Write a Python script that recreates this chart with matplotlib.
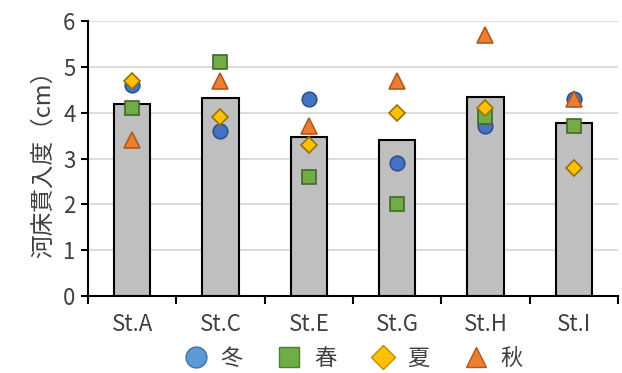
import numpy as np
import matplotlib
matplotlib.use("Agg")
import matplotlib.pyplot as plt
from matplotlib.lines import Line2D

plt.rcParams['font.family'] = ['Noto Sans CJK JP', 'DejaVu Sans']

stations = ['St.A', 'St.C', 'St.E', 'St.G', 'St.H', 'St.I']
bar_mean = [4.2, 4.33, 3.48, 3.4, 4.35, 3.78]
winter = [4.6, 3.6, 4.3, 2.9, 3.7, 4.3]
spring = [4.1, 5.1, 2.6, 2.0, 3.9, 3.7]
summer = [4.7, 3.9, 3.3, 4.0, 4.1, 2.8]
autumn = [3.4, 4.7, 3.7, 4.7, 5.7, 4.3]
season_labels = ['冬', '春', '夏', '秋']

fig = plt.figure(figsize=(6.22, 3.73), dpi=100)
ax = fig.add_axes([0.1415, 0.2064, 0.852, 0.7373])

x = np.arange(len(stations))
ax.bar(x, bar_mean, width=0.41, color='#BFBFBF', edgecolor='black', linewidth=1.5, zorder=2)

# marker styles: (values, marker, face, edge, size)
series = [
    (winter, 'o', '#4472C4', '#2F528F', 10.5),
    (spring, 's', '#70AD47', '#43682B', 10.5),
    (summer, 'D', '#FFC000', '#997300', 8),
    (autumn, '^', '#ED7D31', '#AE5A21', 11),
]
for i, (vals, mk, fc, ec, ms) in enumerate(series):
    ax.plot(x, vals, linestyle='none', marker=mk, markersize=ms,
            markerfacecolor=fc, markeredgecolor=ec, markeredgewidth=1.2, zorder=3 + i)

ax.set_xlim(-0.5, len(stations) - 0.5)
ax.set_ylim(0, 6)
ax.set_yticks(range(7))
ax.yaxis.grid(True, color='#D9D9D9', linewidth=1.3, zorder=0)
ax.set_axisbelow(True)

ax.set_xticks(x)
ax.set_xticklabels(stations, fontsize=16, color='#404040')
ax.tick_params(axis='x', length=0, pad=12)
ax.set_xticks(np.arange(-0.5, len(stations), 1), minor=True)
ax.tick_params(axis='x', which='minor', length=6, width=1.5, direction='out', color='black')
ax.tick_params(axis='y', labelsize=16, labelcolor='#404040', length=5, width=1.5, direction='out', pad=4)

for s in ['top', 'right']:
    ax.spines[s].set_visible(False)
ax.spines['left'].set_linewidth(1.5)
ax.spines['bottom'].set_linewidth(1.5)

ax.set_ylabel('河床貫入度（cm）', fontsize=17, color='#404040', labelpad=6)

legend_cols = [('o', '#5B9BD5', '#41719C', 15), ('s', '#70AD47', '#507E32', 15),
               ('D', '#FFC000', '#BC8C00', 12), ('^', '#ED7D31', '#AE5A21', 15)]
handles = [Line2D([], [], linestyle='none', marker=m, markersize=s, markerfacecolor=f,
                  markeredgecolor=e, markeredgewidth=1.0) for m, f, e, s in legend_cols]
fig.legend(handles, season_labels, loc='center', bbox_to_anchor=(0.567, 0.04), ncol=4,
           frameon=False, fontsize=16, handletextpad=0.5, columnspacing=1.5,
           labelcolor='#404040', handlelength=1.2)

fig.savefig('out.png', dpi=100)
